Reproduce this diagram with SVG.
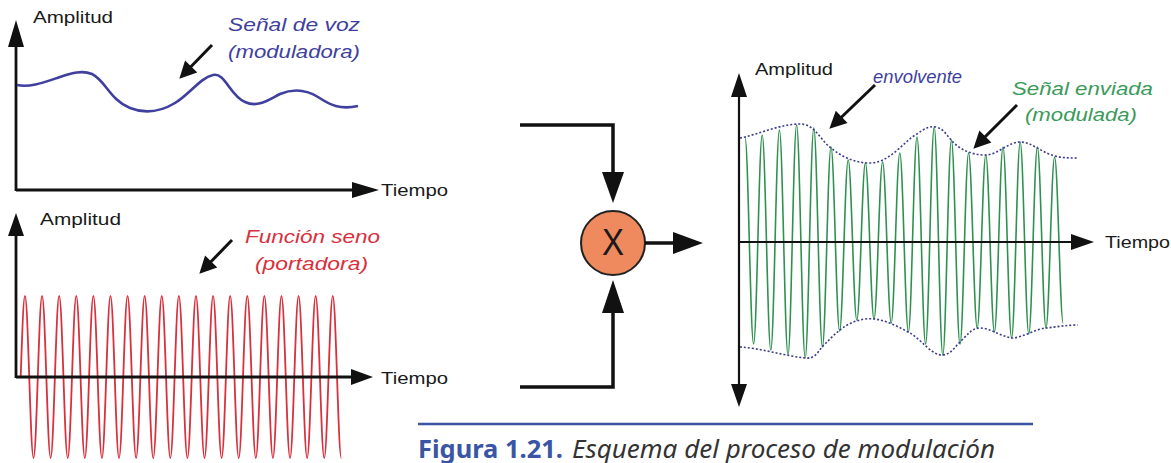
<svg xmlns="http://www.w3.org/2000/svg" width="1171" height="463" viewBox="0 0 1171 463">
<defs>
<style>
.lbl{font-family:"Liberation Sans",Arial,sans-serif;font-size:17px;fill:#1a1a1a}
.it{font-family:"Liberation Sans",Arial,sans-serif;font-style:italic;font-size:19px}
.ax{stroke:#111;stroke-width:2.8;fill:none}
.axr{stroke:#111;stroke-width:2.2;fill:none}
.hd{fill:#111;stroke:none}
.ptr{stroke:#111;stroke-width:3;fill:none;marker-end:url(#ah)}
.conn{stroke:#111;stroke-width:3.5;fill:none}
.env{stroke:#3b3b8f;stroke-width:1.6;fill:none;stroke-dasharray:2 2}
</style>
<marker id="ah" viewBox="0 0 10 10" refX="6.4" refY="5" markerWidth="22" markerHeight="17" markerUnits="userSpaceOnUse" orient="auto">
<path d="M0,0 L10,5 L0,10 z" fill="#111"/>
</marker>
</defs>
<rect width="1171" height="463" fill="#ffffff"/>

<g id="voice-plot">
<line class="ax" x1="16" y1="191" x2="16" y2="44"/>
<polygon class="hd" points="16,20 8,47 24,47"/>
<line class="ax" x1="16" y1="190" x2="354" y2="190"/>
<polygon class="hd" points="379,190 352,182 352,198"/>
<text class="lbl" x="33" y="23" textLength="80" lengthAdjust="spacingAndGlyphs">Amplitud</text>
<text class="lbl" x="381" y="196" textLength="67" lengthAdjust="spacingAndGlyphs">Tiempo</text>
<path d="M17,85 C30,88 45,82 60,77 C72,73 82,70 92,74 C105,80 110,100 130,108 C145,114 160,112 175,103 C190,94 200,78 213,75 C225,72 230,96 245,102 C258,108 268,100 280,94 C292,89 305,89 318,97 C330,105 340,110 358,106" stroke="#3f3f9e" stroke-width="2.6" fill="none"/>
<text class="it" x="228" y="31" fill="#3f3f9e" textLength="132" lengthAdjust="spacingAndGlyphs">Señal de voz</text>
<text class="it" x="228" y="58" fill="#3f3f9e" textLength="132" lengthAdjust="spacingAndGlyphs">(moduladora)</text>
<line class="ptr" x1="212" y1="45" x2="183.6" y2="74.3"/>
</g>

<g id="carrier-plot">
<path d="M20.7,377 c1.394,-41.5 2.727,-81 4.275,-81 s2.881,39.5 4.275,81 s2.727,81 4.275,81 s2.881,-39.5 4.275,-81 s2.727,-81 4.275,-81 s2.881,39.5 4.275,81 s2.727,81 4.275,81 s2.881,-39.5 4.275,-81 s2.727,-81 4.275,-81 s2.881,39.5 4.275,81 s2.727,81 4.275,81 s2.881,-39.5 4.275,-81 s2.727,-81 4.275,-81 s2.881,39.5 4.275,81 s2.727,81 4.275,81 s2.881,-39.5 4.275,-81 s2.727,-81 4.275,-81 s2.881,39.5 4.275,81 s2.727,81 4.275,81 s2.881,-39.5 4.275,-81 s2.727,-81 4.275,-81 s2.881,39.5 4.275,81 s2.727,81 4.275,81 s2.881,-39.5 4.275,-81 s2.727,-81 4.275,-81 s2.881,39.5 4.275,81 s2.727,81 4.275,81 s2.881,-39.5 4.275,-81 s2.727,-81 4.275,-81 s2.881,39.5 4.275,81 s2.727,81 4.275,81 s2.881,-39.5 4.275,-81 s2.727,-81 4.275,-81 s2.881,39.5 4.275,81 s2.727,81 4.275,81 s2.881,-39.5 4.275,-81 s2.727,-81 4.275,-81 s2.881,39.5 4.275,81 s2.727,81 4.275,81 s2.881,-39.5 4.275,-81 s2.727,-81 4.275,-81 s2.881,39.5 4.275,81 s2.727,81 4.275,81 s2.881,-39.5 4.275,-81 s2.727,-81 4.275,-81 s2.881,39.5 4.275,81 s2.727,81 4.275,81 s2.881,-39.5 4.275,-81 s2.727,-81 4.275,-81 s2.881,39.5 4.275,81 s2.727,81 4.275,81 s2.881,-39.5 4.275,-81 s2.727,-81 4.275,-81 s2.881,39.5 4.275,81 s2.727,81 4.275,81 s2.881,-39.5 4.275,-81 s2.727,-81 4.275,-81 s2.881,39.5 4.275,81 s2.727,81 4.275,81 s2.881,-39.5 4.275,-81 s2.727,-81 4.275,-81 s2.881,39.5 4.275,81 s2.727,81 4.275,81 s2.881,-39.5 4.275,-81 s2.727,-81 4.275,-81 s2.881,39.5 4.275,81 s2.727,81 4.275,81 s2.881,-39.5 4.275,-81 s2.727,-81 4.275,-81 s2.881,39.5 4.275,81 s2.727,81 4.275,81 s2.881,-39.5 4.275,-81 s2.727,-81 4.275,-81 s2.881,39.5 4.275,81 s2.727,81 4.275,81" stroke="#d8303c" stroke-width="1.8" fill="none"/>
<line class="ax" x1="16" y1="378" x2="16" y2="232"/>
<polygon class="hd" points="16,213 8,236 24,236"/>
<line class="ax" x1="16" y1="377" x2="354" y2="377"/>
<polygon class="hd" points="373,377 351,369 351,385"/>
<text class="lbl" x="40" y="225" textLength="81" lengthAdjust="spacingAndGlyphs">Amplitud</text>
<text class="lbl" x="381" y="384" textLength="67" lengthAdjust="spacingAndGlyphs">Tiempo</text>
<text class="it" x="245" y="243" fill="#d8303c" textLength="135" lengthAdjust="spacingAndGlyphs">Función seno</text>
<text class="it" x="255" y="270" fill="#d8303c" textLength="113" lengthAdjust="spacingAndGlyphs">(portadora)</text>
<line class="ptr" x1="232" y1="240" x2="203.6" y2="269.3"/>
</g>

<g id="multiplier">
<circle cx="613" cy="243" r="32" fill="#ef8a5e" stroke="#222" stroke-width="2"/>
<text x="613" y="255" text-anchor="middle" font-family="Liberation Sans, Arial, sans-serif" font-size="36" fill="#1a1a1a" textLength="22" lengthAdjust="spacingAndGlyphs">X</text>
</g>

<g id="connectors">
<polyline class="conn" points="520,125 613,125 613,174"/>
<polygon class="hd" points="613,203 602,172 624,172"/>
<polyline class="conn" points="520,387 613,387 613,311"/>
<polygon class="hd" points="613,280 602,313 624,313"/>
<line class="conn" x1="645" y1="243" x2="676" y2="243"/>
<polygon class="hd" points="703,243 673,232 673,254"/>
</g>

<g id="modulated-plot">
<path d="M745,137 C748.12,137 750.48,344 753.6,344 S759.08,135 762.2,135 S767.68,350 770.8,350 S776.28,130 779.4,130 S784.88,355 788,355 S793.48,125 796.6,125 S802.08,358 805.2,358 S810.68,128 813.8,128 S819.28,347 822.4,347 S827.88,147 831,147 S836.48,331 839.6,331 S845.08,160 848.2,160 S853.68,320 856.8,320 S862.28,163 865.4,163 S870.88,319 874,319 S879.48,162 882.6,162 S888.08,323 891.2,323 S896.68,153 899.8,153 S905.28,332 908.4,332 S913.88,137 917,137 S922.48,344 925.6,344 S931.08,127 934.2,127 S939.68,355 942.8,355 S948.28,140 951.4,140 S956.88,344 960,344 S965.48,153 968.6,153 S974.08,328 977.2,328 S982.68,155 985.8,155 S991.28,332 994.4,332 S999.88,147 1003,147 S1008.48,338 1011.6,338 S1017.08,142 1020.2,142 S1025.68,334 1028.8,334 S1034.28,147 1037.4,147 S1042.88,328 1046,328 S1051.48,157 1054.6,157 S1060.08,323 1063.2,323" stroke="#2f9150" stroke-width="1.6" fill="none"/>
<path class="env" d="M740,138 C760,134 780,124 800,124 C815,124 820,140 831,148 C842,157 855,163 870,163 C890,163 905,140 917,134 C925,128 930,126 936,127 C945,129 948,138 955,144 C962,150 972,155 985,155 C998,155 1008,142 1020,142 C1032,142 1042,153 1055,156 C1063,158 1070,158 1078,158"/>
<path class="env" d="M740,347 C760,348 785,356 805,358 C815,359 818,352 822,347 C835,334 845,322 865,319 C880,317 895,325 910,333 C922,340 932,356 943,355 C952,354 955,346 962,340 C968,334 972,328 980,328 C990,328 1000,336 1012,338 C1022,338 1035,329 1046,328 C1056,327 1066,325 1078,325"/>
<line class="axr" x1="739" y1="95" x2="739" y2="386"/>
<polygon class="hd" points="739,73 731,97 747,97"/>
<polygon class="hd" points="739,407 731,384 747,384"/>
<line class="axr" x1="739" y1="242" x2="1074" y2="242"/>
<polygon class="hd" points="1094,242 1071,234 1071,250"/>
<text class="lbl" x="755" y="75" textLength="78" lengthAdjust="spacingAndGlyphs">Amplitud</text>
<text class="lbl" x="1105" y="248" textLength="65" lengthAdjust="spacingAndGlyphs">Tiempo</text>
<text class="it" x="873" y="83" font-size="14" fill="#3f3f9e" textLength="89" lengthAdjust="spacingAndGlyphs">envolvente</text>
<text class="it" x="1012" y="95" fill="#3a9a5a" textLength="141" lengthAdjust="spacingAndGlyphs">Señal enviada</text>
<text class="it" x="1025" y="121" fill="#3a9a5a" textLength="112" lengthAdjust="spacingAndGlyphs">(modulada)</text>
<line class="ptr" x1="875" y1="85" x2="833.8" y2="124.5"/>
<line class="ptr" x1="1017" y1="105" x2="977.7" y2="144.3"/>
</g>

<g id="caption">
<line x1="418" y1="424" x2="1033" y2="424" stroke="#3a52a0" stroke-width="2.5"/>
<text x="418" y="458" font-family="Noto Sans, Open Sans, sans-serif" font-size="25" font-weight="bold" fill="#3a55a4" textLength="145" lengthAdjust="spacingAndGlyphs">Figura 1.21.</text>
<text x="572" y="458" font-family="Noto Sans, Open Sans, sans-serif" font-size="25" font-style="italic" fill="#333" textLength="423" lengthAdjust="spacingAndGlyphs">Esquema del proceso de modulación</text>
</g>
</svg>
